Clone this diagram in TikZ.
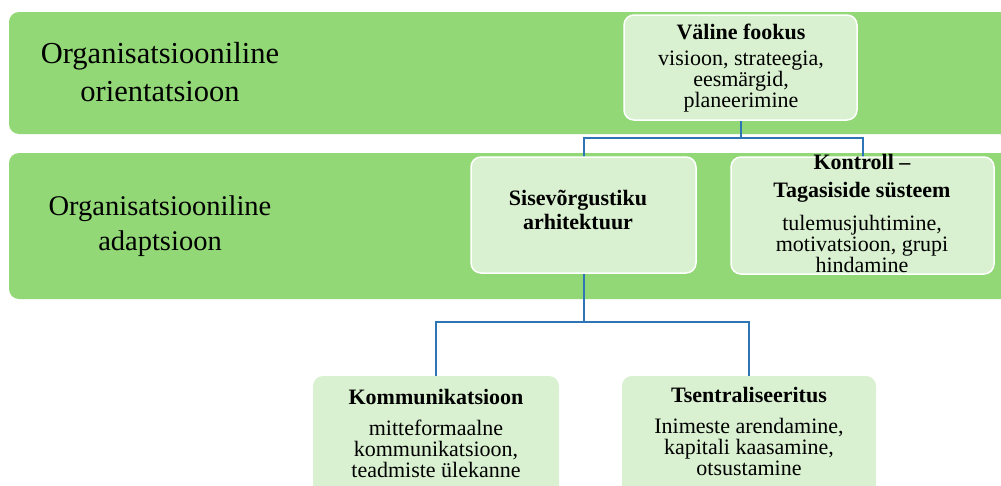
\documentclass[tikz,border=0pt]{standalone}
\usepackage{fontspec}
\setmainfont{Liberation Serif}
\definecolor{bandgreen}{RGB}{146,216,119}
\definecolor{boxgreen}{RGB}{217,241,208}
\definecolor{linkblue}{RGB}{46,117,182}
\begin{document}
\begin{tikzpicture}[x=1pt,y=-1pt,
  band/.style={fill=bandgreen, draw=none, rounded corners=10pt},
  box/.style={fill=boxgreen, draw=white, line width=1.5pt, rounded corners=10pt, inner sep=0pt},
  lowbox/.style={fill=boxgreen, draw=none, rounded corners=10pt, inner sep=0pt},
  link/.style={draw=linkblue, line width=2pt},
  ttl/.style={font=\fontsize{22}{24}\selectfont\bfseries, align=center, inner sep=0pt},
  txt/.style={font=\fontsize{22}{21}\selectfont, align=center, inner sep=0pt},
  lbl/.style={font=\fontsize{30.5}{38}\selectfont, align=center, inner sep=0pt},
  lblb/.style={font=\fontsize{28.5}{35}\selectfont, align=center, inner sep=0pt}]
\useasboundingbox (0,0) rectangle (1001,485);
\fill[white] (0,0) rectangle (1001,485);
\clip (0,0) rectangle (1001,485);

% two horizontal bands
\path[band] (9,12) rectangle (1015,134);
\path[band] (9,153) rectangle (1015,299);
\node[lbl] (bandA) at (160,72) {Organisatsiooniline\\orientatsioon};
\node[lblb] (bandB) at (160,226) {Organisatsiooniline\\adaptsioon};

% box frames
\path (740.5,67.5) node[minimum width=233pt, minimum height=105pt] (vf) {};
\path (583.5,215) node[minimum width=225pt, minimum height=116pt] (sv) {};
\path (862.5,215.5) node[minimum width=263pt, minimum height=117pt] (kt) {};
\path (436,438) node[minimum width=246pt, minimum height=124pt] (km) {};
\path (749,438) node[minimum width=254pt, minimum height=124pt] (ts) {};

% connectors
\draw[link] (vf.south) -- ++(0,18) -| (sv.north);
\draw[link] (vf.south) -- ++(0,18) -| (kt.north);
\draw[link] (sv.south) -- ++(0,49) -| (km.north);
\draw[link] (sv.south) -- ++(0,49) -| (ts.north);

% boxes
\node[box, minimum width=233pt, minimum height=105pt] at (vf) {};
\node[box, minimum width=225pt, minimum height=116pt] at (sv) {};
\node[box, minimum width=263pt, minimum height=117pt] at (kt) {};
\node[lowbox, minimum width=246pt, minimum height=124pt] at (km) {};
\node[lowbox, minimum width=254pt, minimum height=124pt] at (ts) {};

% box texts
\node[ttl] (vfT) at (741,32) {Väline fookus};
\node[txt] (vfB) at (741,82) {visioon, strateegia,\\eesmärgid,\\planeerimine};

\node[ttl] (svT) at (578,210) {Sisevõrgustiku\\arhitektuur};

\node[ttl] (ktT) at (862,162) {Kontroll –};
\node[ttl] (ktT2) at (862,192) {Tagasiside süsteem};
\node[txt] (ktB) at (862,244) {tulemusjuhtimine,\\motivatsioon, grupi\\hindamine};

\node[ttl] (kmT) at (436,397) {Kommunikatsioon};
\node[txt] (kmB) at (436,449) {mitteformaalne\\kommunikatsioon,\\teadmiste ülekanne};

\node[ttl] (tsT) at (749,395) {Tsentraliseeritus};
\node[txt] (tsB) at (749,447) {Inimeste arendamine,\\kapitali kaasamine,\\otsustamine};
\end{tikzpicture}
\end{document}
